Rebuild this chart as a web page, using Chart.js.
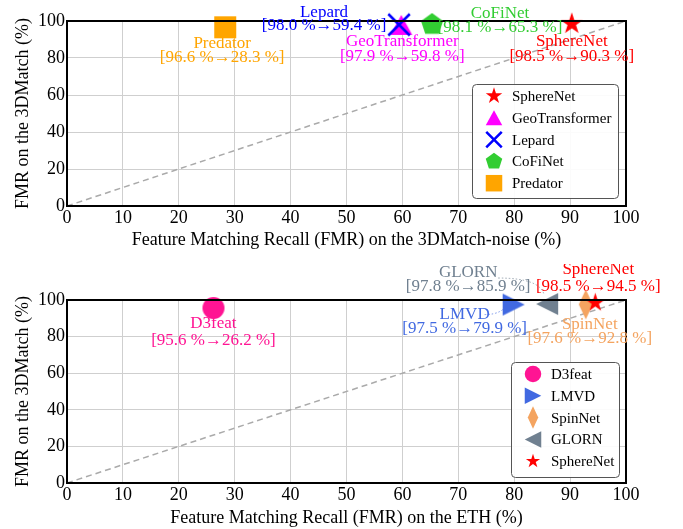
<!DOCTYPE html>
<html>
<head>
<meta charset="utf-8">
<script src="https://cdn.jsdelivr.net/npm/chart.js@4.4.1/dist/chart.umd.min.js"></script>
<style>
  body { margin: 0; background: #fff; overflow: hidden; }
  .wrap { position: absolute; left: 0; width: 683px; }
</style>
</head>
<body>
<div class="wrap" style="top:0;height:264px"><canvas id="noiseChart" width="683" height="264"></canvas></div>
<div class="wrap" style="top:264px;height:265px"><canvas id="ethChart" width="683" height="265"></canvas></div>
<script>
// 3DMatch-noise comparison
const noiseNames = ['SphereNet', 'GeoTransformer', 'Lepard', 'CoFiNet', 'Predator'];
const noiseFmr3DMatch = [98.5, 97.9, 98.0, 98.1, 96.6];
const noiseFmrNoise = [90.3, 59.8, 59.4, 65.3, 28.3];
const noiseColors = ['#ff0000', '#ff00ff', '#0000ff', '#32cd32', '#ffa500'];

// ETH comparison
const ethNames = ['D3feat', 'LMVD', 'SpinNet', 'GLORN', 'SphereNet'];
const ethFmr3DMatch = [95.6, 97.5, 97.6, 97.8, 98.5];
const ethFmrEth = [26.2, 79.9, 92.8, 85.9, 94.5];
const ethColors = ['#ff1493', '#4169e1', '#f4a460', '#708090', '#ff0000'];

const FONT = "'Liberation Serif', 'Times New Roman', serif";

// marker shapes [shape, width, height]
const noiseMarkers = [['star', 22, 22], ['triUp', 22, 20], ['x', 24, 24], ['pentagon', 22, 22], ['square', 22, 22]];
const ethMarkers = [['circle', 22, 22], ['triRight', 22, 22], ['diamond', 14, 30], ['triLeft', 22, 22], ['star', 19, 19]];

// label placement, pixel offsets from the marker: [dx, dy line1, dy line2]
const noiseLabelPos = [[0, 18, 33], [1, 17, 32], [-75, -12, 1], [68, -11, 3], [-3, 16, 30]];
const ethLabelPos = [[0, 15, 32], [-49, 10, 24], [4, 20, 34], [-79, -31, -17], [3, -33, -16]];
// dotted connectors: [index, startDx, startDy, ctrlDx, ctrlDy, endDx, endDy]
const ethConnectors = [[3, -49, -26, -7, -26, -3, -9], [1, -29, 10, -10, 10, -5, -3]];

function polygon(g, pts) {
    g.beginPath();
    pts.forEach((p, i) => i ? g.lineTo(p[0], p[1]) : g.moveTo(p[0], p[1]));
    g.closePath();
    g.fill();
}

function drawShape(g, shape, cx, cy, w, h, color) {
    g.save();
    g.fillStyle = color;
    g.strokeStyle = color;
    if (shape === 'star' || shape === 'pentagon') {
        const R = w / 1.902;
        const pts = [];
        const n = shape === 'star' ? 10 : 5;
        for (let i = 0; i < n; i++) {
            const r = (shape === 'star' && i % 2) ? R * 0.382 : R;
            const a = -Math.PI / 2 + i * 2 * Math.PI / n;
            pts.push([cx + r * Math.cos(a), cy + r * Math.sin(a)]);
        }
        polygon(g, pts);
    } else if (shape === 'triUp') {
        polygon(g, [[cx, cy - h / 2], [cx + w / 2, cy + h / 2], [cx - w / 2, cy + h / 2]]);
    } else if (shape === 'triRight') {
        polygon(g, [[cx + w / 2, cy], [cx - w / 2, cy + h / 2], [cx - w / 2, cy - h / 2]]);
    } else if (shape === 'triLeft') {
        polygon(g, [[cx - w / 2, cy], [cx + w / 2, cy - h / 2], [cx + w / 2, cy + h / 2]]);
    } else if (shape === 'diamond') {
        polygon(g, [[cx, cy - h / 2], [cx + w / 2, cy], [cx, cy + h / 2], [cx - w / 2, cy]]);
    } else if (shape === 'square') {
        g.fillRect(cx - w / 2, cy - h / 2, w, h);
    } else if (shape === 'circle') {
        g.beginPath();
        g.ellipse(cx, cy, w / 2, h / 2, 0, 0, Math.PI * 2);
        g.fill();
    } else if (shape === 'x') {
        const lw = 2.5, s = w / 2 - lw / 2;
        g.lineWidth = lw;
        g.beginPath();
        g.moveTo(cx - s, cy - s); g.lineTo(cx + s, cy + s);
        g.moveTo(cx - s, cy + s); g.lineTo(cx + s, cy - s);
        g.stroke();
    }
    g.restore();
}

function markerImage(spec, color) {
    const c = document.createElement('canvas');
    c.width = Math.ceil(spec[1]) + 2;
    c.height = Math.ceil(spec[2]) + 2;
    drawShape(c.getContext('2d'), spec[0], c.width / 2, c.height / 2, spec[1], spec[2], color);
    return c;
}

// frame, labels, connectors and legend
const extrasPlugin = {
    id: 'extras',
    afterDatasetsDraw(chart, args, opts) {
        const {ctx, chartArea: a} = chart;
        ctx.save();
        ctx.strokeStyle = '#000';
        ctx.lineWidth = 2;
        ctx.strokeRect(a.left, a.top, a.right - a.left, a.bottom - a.top);

        const xs = chart.scales.x, ys = chart.scales.y;
        ctx.font = '17px ' + FONT;
        ctx.textAlign = 'center';
        ctx.textBaseline = 'middle';
        opts.names.forEach((name, i) => {
            const px = xs.getPixelForValue(opts.xVals[i]);
            const py = ys.getPixelForValue(opts.yVals[i]);
            const p = opts.labelPos[i];
            ctx.fillStyle = opts.colors[i];
            ctx.fillText(name, px + p[0], py + p[1]);
            ctx.fillText('[' + opts.yVals[i].toFixed(1) + ' %\u2192' + opts.xVals[i].toFixed(1) + ' %]', px + p[0], py + p[2]);
        });
        (opts.connectors || []).forEach(c => {
            const i = c[0];
            const px = xs.getPixelForValue(opts.xVals[i]);
            const py = ys.getPixelForValue(opts.yVals[i]);
            ctx.strokeStyle = opts.colors[i];
            ctx.globalAlpha = 0.7;
            ctx.lineWidth = 1;
            ctx.setLineDash([1.5, 2]);
            ctx.beginPath();
            ctx.moveTo(px + c[1], py + c[2]);
            ctx.quadraticCurveTo(px + c[3], py + c[4], px + c[5], py + c[6]);
            ctx.stroke();
            ctx.setLineDash([]);
            ctx.globalAlpha = 1;
        });

        // legend box in lower right corner
        const lg = opts.legend;
        const bx = a.right - lg.right - lg.w, by = a.bottom - lg.bottom - lg.h;
        ctx.fillStyle = 'rgba(255,255,255,0.9)';
        ctx.strokeStyle = '#555';
        ctx.lineWidth = 1;
        ctx.beginPath();
        ctx.roundRect(bx + 0.5, by + 0.5, lg.w, lg.h, 4);
        ctx.fill();
        ctx.stroke();
        ctx.font = '15px ' + FONT;
        ctx.textAlign = 'left';
        opts.names.forEach((name, i) => {
            const cy = by + 12 + i * 21.8;
            const m = opts.markers[i];
            const k = 0.75;
            drawShape(ctx, m[0], bx + 22, cy, m[1] * k, m[2] * k, opts.colors[i]);
            ctx.fillStyle = '#000';
            ctx.fillText(name, bx + 40, cy + 1);
        });
        ctx.restore();
    }
};

function makeChart(id, names, xVals, yVals, colors, markers, labelPos, connectors, xTitle, xAxisH, titlePad, padTop, legend) {
    const datasets = names.map((name, i) => ({
        type: 'scatter',
        label: name,
        data: [{x: xVals[i], y: yVals[i]}],
        pointStyle: markerImage(markers[i], colors[i]),
        pointRadius: 11,
        backgroundColor: colors[i],
        borderColor: colors[i],
        clip: false,
        order: -i
    }));
    datasets.push({
        type: 'line',
        label: 'y = x',
        data: [{x: 0, y: 0}, {x: 100, y: 100}],
        borderColor: '#aaaaaa',
        borderWidth: 1.5,
        borderDash: [6, 4],
        pointRadius: 0,
        order: 10
    });
    return new Chart(document.getElementById(id), {
        type: 'scatter',
        data: {datasets},
        options: {
            responsive: false,
            animation: false,
            events: [],
            layout: {padding: {top: padTop, right: 57, left: 0, bottom: 0}},
            plugins: {
                legend: {display: false},
                tooltip: {enabled: false},
                extras: {names, xVals, yVals, colors, markers, labelPos, connectors, legend}
            },
            scales: {
                x: {
                    type: 'linear', min: 0, max: 100,
                    ticks: {stepSize: 10, color: '#000', padding: 1, maxRotation: 0, font: {family: FONT, size: 18}},
                    grid: {color: '#cfcfcf', drawTicks: false},
                    border: {display: false},
                    title: {display: true, text: xTitle, color: '#000', padding: {top: 0, bottom: titlePad}, font: {family: FONT, size: 18}},
                    afterFit: s => { s.height = xAxisH; }
                },
                y: {
                    min: 0, max: 100,
                    ticks: {stepSize: 20, color: '#000', padding: 2, font: {family: FONT, size: 18}},
                    grid: {color: '#cfcfcf', drawTicks: false},
                    border: {display: false},
                    title: {display: true, text: 'FMR on the 3DMatch (%)', color: '#000', padding: {top: 12, bottom: 0}, font: {family: FONT, size: 18}},
                    afterFit: s => { s.width = 67; }
                }
            }
        },
        plugins: [extrasPlugin]
    });
}

makeChart('noiseChart', noiseNames, noiseFmrNoise, noiseFmr3DMatch, noiseColors, noiseMarkers, noiseLabelPos, [],
    'Feature Matching Recall (FMR) on the 3DMatch-noise (%)', 58, 13, 21, {w: 146, h: 114, right: 8, bottom: 8});
makeChart('ethChart', ethNames, ethFmrEth, ethFmr3DMatch, ethColors, ethMarkers, ethLabelPos, ethConnectors,
    'Feature Matching Recall (FMR) on the ETH (%)', 46, 0, 36, {w: 108, h: 115, right: 7, bottom: 6});
</script>
</body>
</html>
